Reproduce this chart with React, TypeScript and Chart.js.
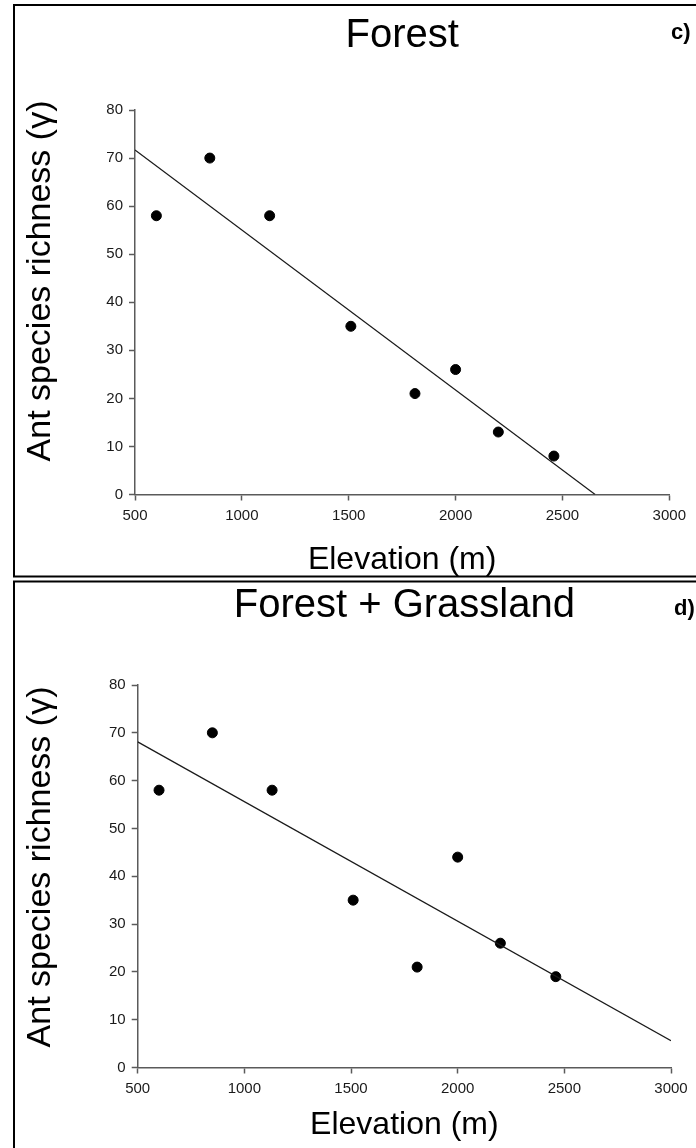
import React, { useEffect, useRef } from "react";
import { Chart, registerables } from "chart.js";

Chart.register(...registerables);

// Panel c: forest sites only
const elevationForest = [600, 850, 1130, 1510, 1810, 2000, 2200, 2460];
const richnessForest = [58, 70, 58, 35, 21, 26, 13, 8];
const fitForestX = [500, 2653];
const fitForestY = [71.7, 0];

// Panel d: forest + grassland sites
const elevationMixed = [600, 850, 1130, 1510, 1810, 2000, 2200, 2460];
const richnessMixed = [58, 70, 58, 35, 21, 44, 26, 19];
const fitMixedX = [500, 3000];
const fitMixedY = [68.1, 5.6];

const xTickValues = [500, 1000, 1500, 2000, 2500, 3000];
const yTickValues = [0, 10, 20, 30, 40, 50, 60, 70, 80];

const panelTitles = ["Forest", "Forest + Grassland"];
const panelLetters = ["c)", "d)"];
const xAxisTitle = "Elevation (m)";
const yAxisTitle = "Ant species richness (\u03b3)";

const FONT = "'Liberation Sans', Arial, sans-serif";
const AXIS_GRAY = "#5a5a5a";

type PanelLayout = {
  height: number;
  padding: { left: number; right: number; top: number; bottom: number };
  frame: { left: number; top: number; bottom: number };
  titleY: number;
  letterX: number;
  letterY: number;
  xTitleY: number;
  yTitleX: number;
  yTitleCenter: number;
};

const layouts: PanelLayout[] = [
  {
    height: 579,
    padding: { left: 75, right: 26.7, top: 110, bottom: 44.5 },
    frame: { left: 14, top: 5, bottom: 576.5 },
    titleY: 47,
    letterX: 671,
    letterY: 39,
    xTitleY: 569,
    yTitleX: 50,
    yTitleCenter: 281,
  },
  {
    height: 569,
    padding: { left: 77.7, right: 25, top: 106, bottom: 40.5 },
    frame: { left: 14, top: 2.5, bottom: 700 },
    titleY: 38,
    letterX: 674,
    letterY: 36,
    xTitleY: 555,
    yTitleX: 50,
    yTitleCenter: 288,
  },
];

const panelDecor = {
  id: "panelDecor",
  afterDraw(chart: any, _args: any, opts: any) {
    const ctx: CanvasRenderingContext2D = chart.ctx;
    const area = chart.chartArea;
    const cx = (area.left + area.right) / 2;
    ctx.save();

    // panel frame (open on the right, running off the figure)
    ctx.strokeStyle = "#000";
    ctx.lineWidth = 2;
    ctx.beginPath();
    ctx.moveTo(chart.width + 10, opts.frame.top);
    ctx.lineTo(opts.frame.left, opts.frame.top);
    ctx.lineTo(opts.frame.left, opts.frame.bottom);
    ctx.lineTo(chart.width + 10, opts.frame.bottom);
    ctx.stroke();

    ctx.fillStyle = "#000";
    ctx.textBaseline = "alphabetic";

    // panel title
    ctx.font = `40px ${FONT}`;
    ctx.textAlign = "center";
    ctx.fillText(opts.title, cx, opts.titleY);

    // panel letter
    ctx.font = `bold 22px ${FONT}`;
    ctx.textAlign = "left";
    ctx.fillText(opts.letter, opts.letterX, opts.letterY);

    // x axis title
    ctx.font = `32px ${FONT}`;
    ctx.textAlign = "center";
    ctx.fillText(opts.xTitle, cx, opts.xTitleY);

    // y axis title
    ctx.font = `34px ${FONT}`;
    ctx.translate(opts.yTitleX, opts.yTitleCenter);
    ctx.rotate(-Math.PI / 2);
    ctx.fillText(opts.yTitle, 0, 0);

    ctx.restore();
  },
};

function buildConfig(index: number): any {
  const lay = layouts[index];
  const xs = index === 0 ? elevationForest : elevationMixed;
  const ys = index === 0 ? richnessForest : richnessMixed;
  const fx = index === 0 ? fitForestX : fitMixedX;
  const fy = index === 0 ? fitForestY : fitMixedY;

  return {
    type: "scatter",
    data: {
      datasets: [
        {
          type: "line",
          data: fx.map((x, i) => ({ x, y: fy[i] })),
          borderColor: "#1a1a1a",
          borderWidth: 1.2,
          pointRadius: 0,
          fill: false,
          tension: 0,
        },
        {
          type: "scatter",
          data: xs.map((x, i) => ({ x, y: ys[i] })),
          backgroundColor: "#000",
          borderColor: "#000",
          pointRadius: 5,
          pointHoverRadius: 5,
        },
      ],
    },
    options: {
      animation: false,
      responsive: false,
      maintainAspectRatio: false,
      events: [],
      layout: { padding: lay.padding },
      plugins: {
        legend: { display: false },
        tooltip: { enabled: false },
        title: { display: false },
        panelDecor: {
          frame: lay.frame,
          title: panelTitles[index],
          letter: panelLetters[index],
          xTitle: xAxisTitle,
          yTitle: yAxisTitle,
          titleY: lay.titleY,
          letterX: lay.letterX,
          letterY: lay.letterY,
          xTitleY: lay.xTitleY,
          yTitleX: lay.yTitleX,
          yTitleCenter: lay.yTitleCenter,
        },
      },
      scales: {
        x: {
          type: "linear",
          min: xTickValues[0],
          max: xTickValues[xTickValues.length - 1],
          afterBuildTicks: (scale: any) => {
            scale.ticks = xTickValues.map((v) => ({ value: v }));
          },
          afterFit: (scale: any) => {
            scale.height = 40;
          },
          border: { display: true, color: AXIS_GRAY, width: 1.5 },
          grid: {
            display: true,
            drawOnChartArea: false,
            drawTicks: true,
            tickLength: 6,
            tickColor: AXIS_GRAY,
            tickWidth: 1.5,
          },
          ticks: {
            autoSkip: false,
            maxRotation: 0,
            padding: 6,
            color: "#1a1a1a",
            font: { family: FONT, size: 15 },
            callback: (v: any) => String(v),
          },
        },
        y: {
          type: "linear",
          min: yTickValues[0],
          max: yTickValues[yTickValues.length - 1],
          afterBuildTicks: (scale: any) => {
            scale.ticks = yTickValues.map((v) => ({ value: v }));
          },
          afterFit: (scale: any) => {
            scale.width = 60;
          },
          border: { display: true, color: AXIS_GRAY, width: 1.5 },
          grid: {
            display: true,
            drawOnChartArea: false,
            drawTicks: true,
            tickLength: 6,
            tickColor: AXIS_GRAY,
            tickWidth: 1.5,
          },
          ticks: {
            autoSkip: false,
            padding: 6,
            color: "#1a1a1a",
            font: { family: FONT, size: 15 },
            callback: (v: any) => String(v),
          },
        },
      },
    },
    plugins: [panelDecor],
  };
}

function Panel({ index, top }: { index: number; top: number }) {
  const ref = useRef<HTMLCanvasElement | null>(null);
  const lay = layouts[index];
  useEffect(() => {
    if (!ref.current) return;
    const chart = new Chart(ref.current, buildConfig(index));
    return () => chart.destroy();
  }, [index]);
  return (
    <canvas
      ref={ref}
      width={696}
      height={lay.height}
      style={{ position: "absolute", left: 0, top, width: 696, height: lay.height }}
    />
  );
}

export default function App() {
  return (
    <div
      style={{
        position: "absolute",
        left: 0,
        top: 0,
        width: 696,
        height: 1148,
        background: "#fff",
        overflow: "hidden",
      }}
    >
      <Panel index={0} top={0} />
      <Panel index={1} top={579} />
    </div>
  );
}
